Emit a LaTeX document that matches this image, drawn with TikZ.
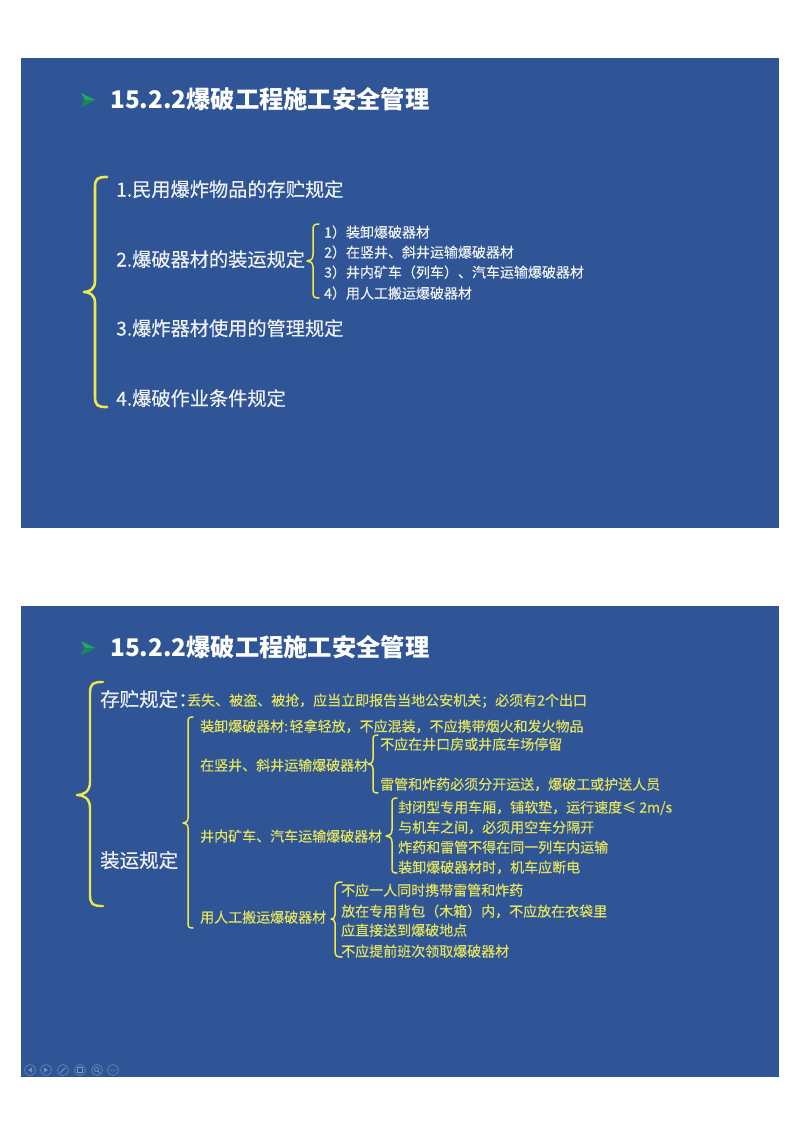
\documentclass[tikz,border=0pt]{standalone}
\usepackage{fontspec}
\setmainfont{Noto Sans CJK SC}
\definecolor{slidebg}{HTML}{2F5597}
\definecolor{braceyel}{HTML}{EEE84A}
\definecolor{txtyel}{HTML}{E2E25E}
\definecolor{txtwhite}{HTML}{EEF1F6}
\definecolor{bulletA}{HTML}{22A860}
\definecolor{bulletB}{HTML}{178A50}
\newcommand{\ybr}[8][braceyel]{% color, lw, tip x, spine x, end x, top, mid, bottom
  \draw[#1,line width=#2,line cap=round,line join=round]
    (#5,#6) .. controls ({#4+0.25*(#5-#4)},#6) and (#4,{#6+1}) .. (#4,{#6+0.9*(#5-#4)})
    -- (#4,{#7-1.0*(#4-#3)})
    .. controls (#4,{#7-0.25*(#4-#3)}) and ({#3+0.5*(#4-#3)},#7) .. (#3,#7)
    .. controls ({#3+0.5*(#4-#3)},#7) and (#4,{#7+0.25*(#4-#3)}) .. (#4,{#7+1.0*(#4-#3)})
    -- (#4,{#8-0.9*(#5-#4)})
    .. controls (#4,{#8-1}) and ({#4+0.25*(#5-#4)},#8) .. (#5,#8);}
\tikzset{
  x=1pt,y=-1pt,
  txt/.style={anchor=west,inner sep=0pt,text height=1.2em,text depth=.1em},
  title/.style={txt,text height=1.55em,text=white,font=\fontsize{24.3}{28}\selectfont\bfseries},
  big/.style={txt,text height=1.4em,text=txtwhite,font=\fontsize{19.2}{22}\selectfont\addfontfeature{FakeBold=0.4}},
  bigb/.style={txt,text height=1.4em,text=txtwhite,font=\fontsize{19.5}{22}\selectfont\addfontfeature{FakeBold=0.4}},
  subw/.style={txt,text=txtwhite,font=\fontsize{14}{16}\selectfont\addfontfeature{FakeBold=0.3}},
  yel/.style={txt,text=txtyel,font=\fontsize{14}{16}\selectfont\addfontfeature{FakeBold=0.4}},
  slide/.style={fill=slidebg,draw=none},
  tool/.style={draw=white,draw opacity=.28,line width=.7pt}
}
\begin{document}
\begin{tikzpicture}
\useasboundingbox (0,0) rectangle (800,1132);
\fill[white] (0,0) rectangle (800,1132);
\fill[slide] (21,58) rectangle (779,528);
\fill[slide] (21,606) rectangle (779,1077);
% bullets
\foreach \dy in {0,548}{
  \fill[bulletA] (81,{93+\dy}) -- (95,{100+\dy}) -- (81,{107+\dy}) -- (85,{100+\dy}) -- cycle;
  \fill[bulletB] (81,{107+\dy}) -- (95,{100+\dy}) -- (85,{100+\dy}) -- cycle;
}
% slide 1
\node[title] (t1) at (110,101) {15.2.2爆破工程施工安全管理};
\ybr{2.6pt}{84}{95}{107}{177}{292}{407}
\node[big] (a1) at (116,190) {1.民用爆炸物品的存贮规定};
\node[big] (a2) at (116,260) {2.爆破器材的装运规定};
\node[big] (a3) at (116,329) {3.爆炸器材使用的管理规定};
\node[big] (a4) at (116,399) {4.爆破作业条件规定};
\ybr{1.5pt}{307}{313}{319}{224}{261}{298}
\node[subw] (b1) at (324,232) {1）装卸爆破器材};
\node[subw] (b2) at (324,252) {2）在竖井、斜井运输爆破器材};
\node[subw] (b3) at (324,272) {3）井内矿车（列车）、汽车运输爆破器材};
\node[subw] (b4) at (324,293) {4）用人工搬运爆破器材};
% slide 2
\node[title] (t2) at (110,649) {15.2.2爆破工程施工安全管理};
\ybr{2.4pt}{77}{90}{103}{682}{795}{906}
\node[bigb] (c1) at (100,700) {存贮规定：};
\node[yel] (c2) at (187,700) {丢失、被盗、被抢，应当立即报告当地公安机关；必须有2个出口};
\node[bigb] (c3) at (100,861) {装运规定};
\ybr{1.5pt}{183}{188}{193}{717}{823}{928}
\node[yel] (d1) at (200,726) {装卸爆破器材:\kern1.5pt 轻拿轻放，不应混装，不应携带烟火和发火物品};
\node[yel] (d2) at (200,765) {在竖井、斜井运输爆破器材};
\ybr{1.5pt}{368}{373}{378}{735}{764}{793}
\node[yel] (e1) at (380,744) {不应在井口房或井底车场停留};
\node[yel] (e2) at (380,784) {雷管和炸药必须分开运送，爆破工或护送人员};
\node[yel] (d3) at (200,836) {井内矿车、汽车运输爆破器材};
\ybr{1.5pt}{386}{392}{397}{798}{836}{873}
\node[yel] (f1) at (398,807) {封闭型专用车厢，铺软垫，运行速度≤ 2m/s};
\node[yel] (f2) at (398,827) {与机车之间，必须用空车分隔开};
\node[yel] (f3) at (398,847) {炸药和雷管不得在同一列车内运输};
\node[yel] (f4) at (398,867) {装卸爆破器材时，机车应断电};
\node[yel] (d4) at (200,917) {用人工搬运爆破器材};
\ybr{1.5pt}{331}{335}{342}{882}{919}{957}
\node[yel] (g1) at (341,890) {不应一人同时携带雷管和炸药};
\node[yel] (g2) at (341,911) {放在专用背包（木箱）内，不应放在衣袋里};
\node[yel] (g3) at (341,930) {应直接送到爆破地点};
\node[yel] (g4) at (341,951) {不应提前班次领取爆破器材};
% toolbar
\foreach \x in {30,46,63,80,97,113}{\draw[tool] (\x,1070) circle (5.5);}
\fill[white,opacity=.35] (28,1070) -- (32,1067.5) -- (32,1072.5) -- cycle;
\fill[white,opacity=.35] (48,1070) -- (44,1067.5) -- (44,1072.5) -- cycle;
\draw[white,opacity=.4,line width=.9pt] (60.5,1072.5) -- (65.5,1067.5);
\draw[white,opacity=.4,line width=.6pt] (77.5,1067.5) rectangle (82.5,1072.5);
\draw[white,opacity=.4,line width=.6pt] (96.5,1069.5) circle (2.2) (98,1071) -- (100,1073);
\fill[white,opacity=.4] (110.5,1069.6) rectangle +(1,1) (112.5,1069.6) rectangle +(1,1) (114.5,1069.6) rectangle +(1,1);
\end{tikzpicture}
\end{document}
